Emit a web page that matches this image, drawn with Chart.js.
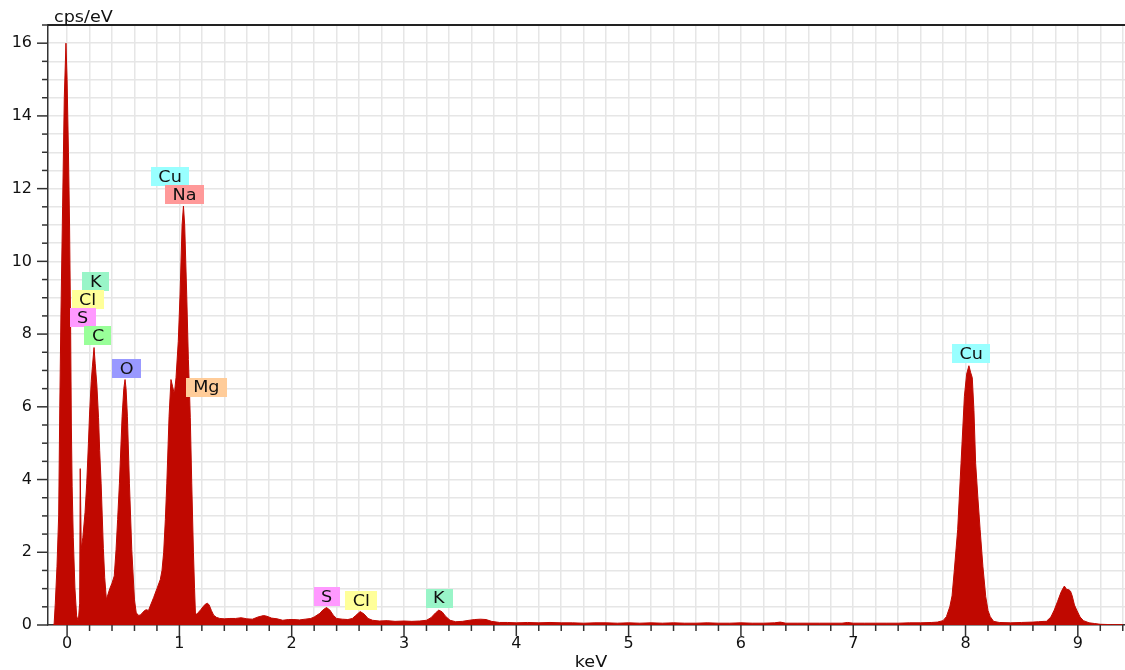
<!DOCTYPE html>
<html><head><meta charset="utf-8">
<script src="https://cdn.jsdelivr.net/npm/chart.js@4.4.1/dist/chart.umd.min.js"></script>
<style>html,body{margin:0;padding:0;background:#fff;overflow:hidden}</style>
</head><body>
<canvas id="c" width="1125" height="670"></canvas>
<script>
// ---- data ----
const energy = [
-0.12,-0.115,-0.105,-0.09,-0.075,-0.065,-0.055,-0.04,-0.025,-0.01,0.0,0.012,0.022,0.032,0.038,0.045,0.055,0.07,0.085,0.1,
0.112,0.117,0.122,0.126,0.14,0.16,0.175,0.19,0.2,0.215,0.225,0.24,0.25,0.265,0.28,0.29,0.303,0.313,0.323,0.335,0.35,
0.365,0.38,0.40,0.42,0.436,0.45,0.466,0.49,0.505,0.516,0.525,0.537,0.555,0.576,0.6,0.615,0.63,0.65,0.67,0.69,0.705,0.725,
0.74,0.77,0.80,0.83,0.845,0.86,0.875,0.888,0.908,0.925,0.94,0.955,0.97,0.99,1.006,1.024,1.036,1.047,1.065,1.08,1.09,1.097,
1.11,1.125,1.135,1.143,1.155,1.17,1.19,1.21,1.23,1.25,1.265,1.285,1.305,1.33,
1.36,1.40,1.45,1.50,1.55,1.60,1.65,1.70,1.75,1.78,1.82,1.87,1.92,1.97,2.02,2.07,2.12,2.17,2.2,2.25,2.28,2.31,2.34,2.37,2.40,
2.45,2.50,2.54,2.57,2.61,2.645,2.68,2.72,2.78,2.85,2.92,3.0,3.07,3.14,3.2,3.24,3.28,3.31,3.34,3.37,3.41,3.46,3.52,3.58,3.63,
3.68,3.73,3.78,3.85,3.92,4.0,4.1,4.2,4.3,4.4,4.5,4.6,4.7,4.8,4.9,5.0,5.1,5.2,5.3,5.4,5.5,5.6,5.7,5.8,5.9,6.0,6.1,6.2,6.3,
6.35,6.4,6.5,6.6,6.7,6.8,6.9,6.95,7.0,7.1,7.2,7.3,7.4,7.5,7.6,7.7,7.75,
7.8,7.83,7.86,7.88,7.9,7.93,7.96,7.99,8.01,8.03,8.045,8.06,8.075,8.09,8.11,8.13,8.155,8.18,8.2,8.22,8.25,
8.3,8.4,8.5,8.6,8.65,8.7,8.72,8.76,8.79,8.82,8.85,8.87,8.88,8.9,8.92,8.935,8.95,8.97,8.99,9.02,9.05,9.1,9.15,9.2,9.3,9.4
];
const counts = [
0,0.05,0.6,1.6,3.0,6.0,8.5,11.5,14.5,16.0,15.0,13.0,11.0,8.0,5.5,3.8,2.4,1.0,0.25,0.1,
0.6,4.3,4.3,2.1,2.4,3.1,3.9,5.0,5.8,6.7,7.1,7.63,7.2,6.6,5.7,4.8,3.9,3.0,2.1,1.3,0.7,
0.85,1.0,1.15,1.35,2.07,2.9,3.9,5.74,6.5,6.75,6.5,5.74,3.9,2.07,0.69,0.35,0.27,0.27,0.33,0.4,0.42,0.4,
0.52,0.75,1.0,1.25,1.5,2.0,2.9,3.9,5.74,6.75,6.55,6.35,6.8,7.8,9.1,11.0,11.52,11.0,9.1,7.3,6.4,5.7,
3.9,2.0,1.0,0.3,0.3,0.35,0.42,0.5,0.57,0.6,0.55,0.4,0.27,0.21,
0.18,0.17,0.18,0.18,0.2,0.17,0.16,0.22,0.26,0.24,0.19,0.17,0.13,0.15,0.15,0.14,0.16,0.18,0.22,0.32,0.42,0.48,0.41,0.27,0.18,
0.16,0.15,0.18,0.26,0.37,0.3,0.18,0.13,0.11,0.12,0.1,0.11,0.1,0.11,0.13,0.2,0.33,0.41,0.36,0.24,0.13,0.09,0.1,0.13,0.15,
0.16,0.15,0.1,0.07,0.07,0.06,0.07,0.06,0.07,0.06,0.06,0.05,0.06,0.06,0.05,0.06,0.05,0.06,0.05,0.06,0.05,0.05,0.06,0.05,0.05,0.06,0.05,0.05,0.06,
0.08,0.05,0.05,0.05,0.05,0.05,0.05,0.07,0.05,0.05,0.05,0.05,0.05,0.06,0.06,0.07,0.08,
0.12,0.23,0.5,0.8,1.5,2.62,4.45,6.29,6.9,7.13,6.95,6.8,5.9,4.45,3.5,2.62,1.6,0.78,0.4,0.23,0.1,
0.07,0.06,0.07,0.08,0.09,0.1,0.1,0.22,0.41,0.65,0.9,1.02,1.07,0.98,0.97,0.93,0.8,0.55,0.41,0.22,0.12,0.06,0.04,0.02,0.01,0.01
];
const peakNames  = ['Cu','Na','K','Cl','S','C','O','Mg','S','Cl','K','Cu'];
const peakLabelX = [0.917,1.045,0.255,0.183,0.138,0.276,0.53,1.24,2.311,2.62,3.31,8.05];
const peakLabelY = [12.33,11.84,9.44,8.94,8.45,7.95,7.04,6.54,0.785,0.675,0.735,7.46];
const peakColors = ['#99ffff','#ff9999','#99f5c8','#ffff99','#ff99ff','#99ff99','#9999ff','#ffcc99','#ff99ff','#ffff99','#99f5c8','#99ffff'];
const xTickLabels = ['0','1','2','3','4','5','6','7','8','9'];
const yTickLabels = ['0','2','4','6','8','10','12','14','16'];
const xTitle = 'keV';
const yTitle = 'cps/eV';

const FONT = 'DejaVu Sans';
const STRETCH = 1.1;

function stretchedText(ctx, txt, x, y, align) {
  ctx.save();
  ctx.translate(x, y);
  ctx.scale(STRETCH, 1);
  ctx.textAlign = align;
  ctx.fillText(txt, 0, 0);
  ctx.restore();
}

const decorPlugin = {
  id: 'decor',
  afterDatasetsDraw(chart) {
    const {ctx, scales: {x, y}} = chart;
    ctx.save();
    ctx.font = '16px "' + FONT + '"';
    ctx.textBaseline = 'middle';
    peakNames.forEach((name, i) => {
      const px = x.getPixelForValue(peakLabelX[i]);
      const py = y.getPixelForValue(peakLabelY[i]);
      const w = ctx.measureText(name).width * STRETCH + 15;
      const h = 19;
      ctx.fillStyle = peakColors[i];
      ctx.fillRect(Math.round(px - w / 2), Math.round(py - h / 2), Math.round(w), h);
      ctx.fillStyle = '#111';
      stretchedText(ctx, name, px, py + 1, 'center');
    });
    ctx.restore();
  },
  afterDraw(chart) {
    const {ctx, chartArea: a, scales: {x, y}} = chart;
    ctx.save();
    ctx.strokeStyle = '#333';
    ctx.lineWidth = 1.5;
    x.ticks.forEach(t => {
      const px = x.getPixelForValue(t.value);
      const major = Math.round(t.value * 5) % 5 === 0;
      ctx.beginPath();
      ctx.moveTo(px, a.bottom);
      ctx.lineTo(px, a.bottom + (major ? 11 : 6));
      ctx.stroke();
    });
    y.ticks.forEach(t => {
      const py = y.getPixelForValue(t.value);
      const major = Math.round(t.value * 2) % 4 === 0;
      ctx.beginPath();
      ctx.moveTo(a.left, py);
      ctx.lineTo(a.left - (major ? 11 : 6), py);
      ctx.stroke();
    });
    // top frame line
    ctx.strokeStyle = '#222';
    ctx.lineWidth = 2;
    ctx.beginPath();
    ctx.moveTo(a.left, a.top);
    ctx.lineTo(a.right, a.top);
    ctx.stroke();
    // axis titles
    ctx.fillStyle = '#111';
    ctx.font = '16px "' + FONT + '"';
    ctx.textBaseline = 'alphabetic';
    stretchedText(ctx, yTitle, 54, 22, 'left');
    stretchedText(ctx, xTitle, 591, 667, 'center');
    ctx.restore();
  }
};

const points = energy.map((e, i) => ({x: e, y: counts[i]}));

new Chart(document.getElementById('c'), {
  type: 'line',
  data: {
    datasets: [{
      data: points,
      borderColor: '#c00800',
      backgroundColor: '#c00800',
      borderWidth: 1,
      fill: 'origin',
      pointRadius: 0,
      tension: 0
    }]
  },
  options: {
    responsive: false,
    animation: false,
    parsing: false,
    layout: {padding: {top: 25, right: 0, left: 0, bottom: 0}},
    plugins: {legend: {display: false}, tooltip: {enabled: false}},
    scales: {
      x: {
        type: 'linear',
        min: -0.17,
        max: 9.42,
        afterBuildTicks: s => {
          const t = [];
          for (let i = 0; i <= 47; i++) t.push({value: i / 5});
          s.ticks = t;
        },
        afterFit: s => { s.height = 45; s.paddingLeft = 0; s.paddingRight = 0; },
        ticks: {
          autoSkip: false, maxRotation: 0, padding: 9,
          color: '#111', font: {family: FONT, size: 16},
          callback: v => { const r = Math.round(v * 5); return r % 5 === 0 ? xTickLabels[r / 5] : ''; }
        },
        grid: {color: '#e6e6e6', lineWidth: 1.5, drawTicks: false},
        border: {color: '#333', width: 1.5}
      },
      y: {
        type: 'linear',
        min: 0,
        max: 16.5,
        afterBuildTicks: s => {
          const t = [];
          for (let i = 0; i <= 33; i++) t.push({value: i / 2});
          s.ticks = t;
        },
        afterFit: s => { s.width = 48; s.paddingTop = 0; s.paddingBottom = 0; },
        ticks: {
          autoSkip: false, padding: 16,
          color: '#111', font: {family: FONT, size: 16},
          callback: v => { const r = Math.round(v * 2); return r % 4 === 0 ? yTickLabels[r / 4] : ''; }
        },
        grid: {color: '#e6e6e6', lineWidth: 1.5, drawTicks: false},
        border: {color: '#333', width: 1.5}
      }
    }
  },
  plugins: [decorPlugin]
});
</script>
</body></html>
